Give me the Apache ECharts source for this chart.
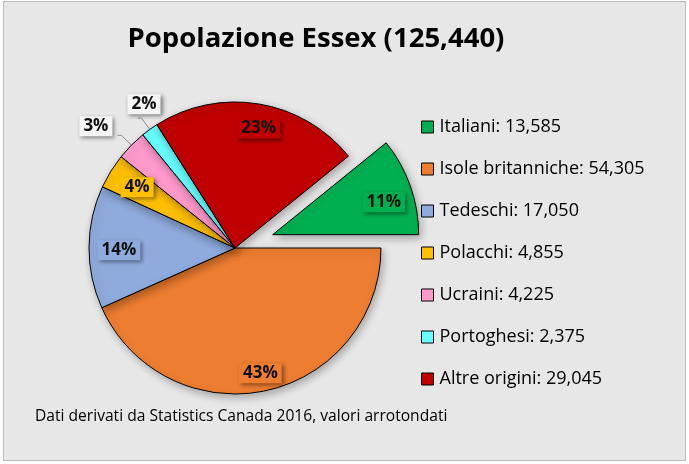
<!DOCTYPE html>
<html>
<head>
<meta charset="utf-8">
<script src="https://cdn.jsdelivr.net/npm/echarts@6/dist/echarts.min.js"></script>
<style>
html,body{margin:0;padding:0;background:#ffffff;}
#frame{position:absolute;left:3px;top:1px;width:681px;height:458px;background:#e7e7e7;border:1px solid #bcbcbc;}
#chart{position:absolute;left:0;top:0;width:689px;height:464px;}
</style>
</head>
<body>
<div id="frame"></div>
<div id="chart"></div>
<script>
const categories = ['Italiani', 'Isole britanniche', 'Tedeschi', 'Polacchi', 'Ucraini', 'Portoghesi', 'Altre origini'];
const values = [13585, 54305, 17050, 4855, 4225, 2375, 29045];
const colors = ['#00b050', '#ed7d31', '#8faadc', '#ffc000', '#ff99cc', '#66ffff', '#c00000'];
const titleText = 'Popolazione Essex (125,440)';
const footnote = 'Dati derivati da Statistics Canada 2016, valori arrotondati';
const outsideLabels = ['Ucraini', 'Portoghesi'];
const explodedCategory = 'Italiani';

const FONT = 'Open Sans';
const total = values.reduce((a, b) => a + b, 0);
const startAngle = values[0] / total * 360;
const fmtNum = v => v.toLocaleString('en-US');
const pct = p => Math.round(p) + '%';

// small nudges of label boxes to mimic Excel's label placement
const calloutNudge = { 'Portoghesi': [28, -14], 'Ucraini': [0, -9] };
const insideNudge = { 'Italiani': [-3, 8], 'Isole britanniche': [0, 7], 'Tedeschi': [5, 3], 'Polacchi': [5, 3], 'Altre origini': [4, 0] };

const labelBox = {
  fontFamily: FONT, fontWeight: 'bold', fontSize: 17, color: '#111',
  padding: [2, 4, 1, 4],
  shadowBlur: 4, shadowColor: 'rgba(0,0,0,0.45)', shadowOffsetX: 2, shadowOffsetY: 2
};

const mainData = categories.map((c, i) => {
  const out = outsideLabels.includes(c);
  return {
    name: c, value: values[i], selected: c === explodedCategory,
    itemStyle: { color: colors[i] },
    label: out ? Object.assign({ show: true, position: 'outside', backgroundColor: '#f4f4f4', formatter: p => pct(p.percent) }, labelBox) : { show: false },
    labelLine: { show: out, length: 14, length2: 4, lineStyle: { color: '#8c8c8c', width: 1 } }
  };
});

const labelData = categories.map((c, i) => {
  const out = outsideLabels.includes(c);
  return {
    name: c, value: values[i], selected: c === explodedCategory,
    label: out ? { show: false } : Object.assign({ show: true, position: 'inside', backgroundColor: colors[i], formatter: p => pct(p.percent) }, labelBox)
  };
});

const nudger = table => params => {
  const n = table[categories[params.dataIndex]];
  return n ? { dx: n[0], dy: n[1], hideOverlap: false } : { hideOverlap: false };
};

const chart = echarts.init(document.getElementById('chart'));
chart.setOption({
  backgroundColor: 'transparent',
  animation: false,
  title: [
    { text: titleText, left: 311, top: 20, textAlign: 'center',
      textStyle: { fontFamily: FONT, fontWeight: 'bold', fontSize: 27.5, color: '#000' } },
    { text: footnote, left: 30, top: 404,
      textStyle: { fontFamily: FONT, fontWeight: 'normal', fontSize: 15.6, color: '#000' } }
  ],
  legend: {
    orient: 'vertical', left: 416, top: 112,
    itemWidth: 12, itemHeight: 12, itemGap: 22, icon: 'rect',
    selectedMode: false,
    data: categories,
    formatter: name => name + ': ' + fmtNum(values[categories.indexOf(name)]),
    textStyle: { fontFamily: FONT, fontSize: 18, color: '#000', lineHeight: 20, padding: [0, 0, 0, 1] },
    itemStyle: { borderColor: '#000', borderWidth: 1 }
  },
  series: [
    {
      type: 'pie', name: 'main',
      center: [235, 248], radius: 146,
      startAngle: startAngle, clockwise: true,
      selectedMode: 'single', selectedOffset: 40,
      avoidLabelOverlap: false,
      labelLayout: nudger(calloutNudge),
      itemStyle: { borderColor: '#000', borderWidth: 1, shadowBlur: 8, shadowColor: 'rgba(0,0,0,0.3)', shadowOffsetX: 2, shadowOffsetY: 3 },
      emphasis: { disabled: true },
      data: mainData
    },
    {
      type: 'pie', name: 'labels', silent: true,
      center: [235, 248], radius: [90, 146],
      startAngle: startAngle, clockwise: true,
      selectedMode: 'single', selectedOffset: 40,
      avoidLabelOverlap: false,
      labelLayout: nudger(insideNudge),
      itemStyle: { color: 'rgba(0,0,0,0)', borderWidth: 0 },
      labelLine: { show: false },
      emphasis: { disabled: true },
      legendHoverLink: false,
      data: labelData
    }
  ]
});
</script>
</body>
</html>
